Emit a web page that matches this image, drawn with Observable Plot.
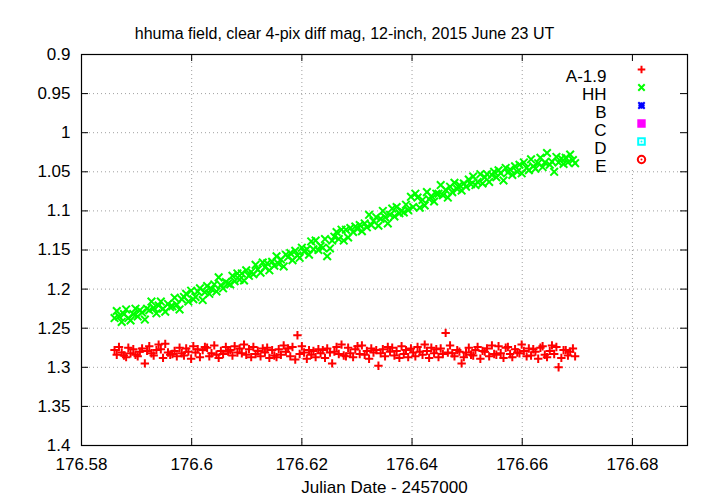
<!DOCTYPE html>
<html><head><meta charset="utf-8">
<script src="https://cdn.jsdelivr.net/npm/d3@7"></script>
<script src="https://cdn.jsdelivr.net/npm/@observablehq/plot@0.6"></script>
<style>
html,body{margin:0;padding:0;background:#fff}
#chart svg{display:block}
</style>
</head><body><div id="chart"></div>
<script>
const titleText = "hhuma field, clear 4-pix diff mag, 12-inch, 2015 June 23 UT";
const xLabelText = "Julian Date - 2457000";
const seriesNames = ["A-1.9", "HH", "B", "C", "D", "E"];
const seriesColors = ["#ff0000", "#00ff00", "#0000ff", "#ff00ff", "#00ffff", "#ff0000"];
const xTicks = [176.58, 176.60, 176.62, 176.64, 176.66, 176.68];
const yTicks = [0.90, 0.95, 1.00, 1.05, 1.10, 1.15, 1.20, 1.25, 1.30, 1.35, 1.40];

const jd = [
176.5860,176.5864,176.5868,176.5873,176.5877, 176.5881,176.5885,176.5889,176.5894,176.5898,
176.5902,176.5906,176.5910,176.5915,176.5919, 176.5923,176.5927,176.5931,176.5936,176.5940,
176.5944,176.5948,176.5952,176.5957,176.5961, 176.5965,176.5969,176.5973,176.5978,176.5982,
176.5986,176.5990,176.5994,176.5999,176.6003, 176.6007,176.6011,176.6015,176.6020,176.6024,
176.6028,176.6032,176.6036,176.6041,176.6045, 176.6049,176.6053,176.6057,176.6062,176.6066,
176.6070,176.6074,176.6078,176.6083,176.6087, 176.6091,176.6095,176.6099,176.6104,176.6108,
176.6112,176.6116,176.6120,176.6125,176.6129, 176.6133,176.6137,176.6141,176.6146,176.6150,
176.6154,176.6158,176.6162,176.6167,176.6171, 176.6175,176.6179,176.6183,176.6188,176.6192,
176.6196,176.6200,176.6204,176.6209,176.6213, 176.6217,176.6221,176.6225,176.6230,176.6234,
176.6238,176.6242,176.6246,176.6251,176.6255, 176.6259,176.6263,176.6267,176.6272,176.6276,
176.6280,176.6284,176.6288,176.6293,176.6297, 176.6301,176.6305,176.6309,176.6314,176.6318,
176.6322,176.6326,176.6330,176.6335,176.6339, 176.6343,176.6347,176.6351,176.6356,176.6360,
176.6364,176.6368,176.6372,176.6377,176.6381, 176.6385,176.6389,176.6393,176.6398,176.6402,
176.6406,176.6410,176.6414,176.6419,176.6423, 176.6427,176.6431,176.6435,176.6440,176.6444,
176.6448,176.6452,176.6456,176.6461,176.6465, 176.6469,176.6473,176.6477,176.6482,176.6486,
176.6490,176.6494,176.6498,176.6503,176.6507, 176.6511,176.6515,176.6519,176.6524,176.6528,
176.6532,176.6536,176.6540,176.6545,176.6549, 176.6553,176.6557,176.6561,176.6566,176.6570,
176.6574,176.6578,176.6582,176.6587,176.6591, 176.6595,176.6599,176.6603,176.6608,176.6612,
176.6616,176.6620,176.6624,176.6629,176.6633, 176.6637,176.6641,176.6645,176.6650,176.6654,
176.6658,176.6662,176.6666,176.6671,176.6675, 176.6679,176.6683,176.6687,176.6692,176.6696
];

const magA = [
1.278,1.284,1.274,1.281,1.285, 1.287,1.275,1.282,1.277,1.284,
1.286,1.280,1.276,1.295,1.279, 1.273,1.282,1.285,1.278,1.271,
1.277,1.288,1.270,1.281,1.284, 1.283,1.279,1.286,1.275,1.282,
1.285,1.276,1.280,1.289,1.273, 1.281,1.277,1.287,1.278,1.274,
1.275,1.286,1.282,1.272,1.284, 1.288,1.279,1.283,1.274,1.280,
1.278,1.285,1.273,1.281,1.276, 1.282,1.271,1.284,1.277,1.287,
1.274,1.283,1.279,1.286,1.276, 1.281,1.275,1.288,1.278,1.285,
1.287,1.277,1.284,1.272,1.280, 1.276,1.286,1.274,1.290,1.259,
1.283,1.273,1.281,1.289,1.278, 1.284,1.279,1.287,1.277,1.282,
1.278,1.288,1.276,1.281,1.295, 1.280,1.274,1.283,1.271,1.285,
1.286,1.275,1.282,1.287,1.277, 1.273,1.283,1.272,1.284,1.279,
1.289,1.276,1.281,1.278,1.298, 1.282,1.277,1.286,1.274,1.280,
1.275,1.285,1.279,1.288,1.273, 1.283,1.278,1.287,1.276,1.281,
1.286,1.274,1.280,1.284,1.271, 1.279,1.288,1.275,1.282,1.277,
1.287,1.276,1.283,1.256,1.281, 1.272,1.282,1.286,1.278,1.280,
1.295,1.287,1.281,1.275,1.284, 1.285,1.278,1.274,1.289,1.279,
1.280,1.276,1.286,1.272,1.283, 1.284,1.273,1.282,1.288,1.275,
1.274,1.283,1.287,1.277,1.281, 1.282,1.271,1.279,1.286,1.276,
1.285,1.277,1.280,1.289,1.275, 1.273,1.284,1.287,1.279,1.272,
1.283,1.274,1.300,1.288,1.278, 1.278,1.285,1.280,1.276,1.286
];

const magHH = [
1.237,1.228,1.235,1.242,1.232, 1.226,1.237,1.240,1.232,1.225,
1.235,1.227,1.230,1.239,1.225, 1.227,1.216,1.224,1.231,1.221,
1.216,1.225,1.229,1.219,1.223, 1.222,1.211,1.220,1.226,1.213,
1.210,1.206,1.216,1.202,1.213, 1.210,1.203,1.199,1.214,1.204,
1.196,1.206,1.200,1.194,1.203, 1.185,1.195,1.199,1.191,1.193,
1.194,1.183,1.190,1.180,1.188, 1.180,1.189,1.176,1.183,1.178,
1.181,1.169,1.175,1.179,1.166, 1.172,1.167,1.176,1.165,1.170,
1.158,1.168,1.162,1.171,1.156, 1.159,1.154,1.163,1.151,1.157,
1.160,1.147,1.152,1.149,1.156, 1.139,1.149,1.138,1.150,1.145,
1.147,1.136,1.158,1.148,1.138, 1.133,1.127,1.136,1.124,1.138,
1.124,1.134,1.122,1.127,1.120, 1.123,1.118,1.126,1.116,1.121,
1.105,1.118,1.113,1.108,1.119, 1.110,1.100,1.108,1.116,1.105,
1.097,1.107,1.095,1.103,1.100, 1.102,1.092,1.099,1.082,1.095,
1.078,1.083,1.096,1.086,1.093, 1.076,1.085,1.081,1.088,1.078,
1.078,1.067,1.080,1.073,1.083, 1.069,1.076,1.064,1.072,1.067,
1.074,1.065,1.069,1.060,1.066, 1.056,1.067,1.063,1.053,1.065,
1.057,1.053,1.063,1.054,1.050, 1.057,1.048,1.052,1.061,1.045,
1.051,1.047,1.054,1.043,1.050, 1.041,1.052,1.038,1.045,1.048,
1.034,1.043,1.046,1.039,1.032, 1.044,1.038,1.026,1.041,1.037,
1.050,1.031,1.038,1.033,1.040, 1.032,1.038,1.028,1.035,1.039
];

const rowsA = jd.map((t, i) => ({t, m: magA[i]}));
const rowsHH = jd.map((t, i) => ({t, m: magHH[i]}));

// custom point symbols (gnuplot style)
const symPlus = {draw(c, s) { const r = Math.sqrt(s / Math.PI); c.moveTo(-r, 0); c.lineTo(r, 0); c.moveTo(0, -r); c.lineTo(0, r); }};
const symTimes = {draw(c, s) { const r = Math.sqrt(s / Math.PI); c.moveTo(-r, -r); c.lineTo(r, r); c.moveTo(-r, r); c.lineTo(r, -r); }};
const symStar = {draw(c, s) { const r = Math.sqrt(s / Math.PI); c.moveTo(-r, 0); c.lineTo(r, 0); c.moveTo(0, -r); c.lineTo(0, r); c.moveTo(-r, -r); c.lineTo(r, r); c.moveTo(-r, r); c.lineTo(r, -r); }};
const symSquare = {draw(c, s) { const r = Math.sqrt(s / Math.PI); c.rect(-r, -r, 2 * r, 2 * r); }};
const symCircle = {draw(c, s) { const r = Math.sqrt(s / Math.PI); c.moveTo(r, 0); c.arc(0, 0, r, 0, 2 * Math.PI); }};

const fmt = d => String(+d.toFixed(2));
const W = 720, H = 504, mL = 81, mR = 33, mT = 54, mB = 59;
const fw = W - mL - mR, fh = H - mT - mB;
const FONT = 17;
const gridStyle = {stroke: "#a0a0a0", strokeWidth: 1, strokeDasharray: "1,3"};

const legendMarks = [];
const legendSyms = [
  {symbol: symPlus, r: 3.8, filled: false},
  {symbol: symTimes, r: 3.2, filled: false},
  {symbol: symStar, r: 3.2, filled: false},
  {symbol: symSquare, r: 3.2, filled: true},
  {symbol: symSquare, r: 3.3, filled: false},
  {symbol: symCircle, r: 3.7, filled: false}
];
seriesNames.forEach((name, i) => {
  const dy = 15 + 18 * i;
  legendMarks.push(Plot.text([name], {text: d => d, frameAnchor: "top-right", dx: -81, dy, textAnchor: "end", fontSize: FONT, fill: "black"}));
  const s = legendSyms[i];
  legendMarks.push(Plot.dot([name], {frameAnchor: "top-right", dx: -46, dy, symbol: s.symbol, r: s.r,
    stroke: seriesColors[i], fill: s.filled ? seriesColors[i] : "none", strokeWidth: 2}));
  if (i >= 4) legendMarks.push(Plot.dot([name], {frameAnchor: "top-right", dx: -46, dy, r: 1, fill: seriesColors[i], stroke: "none"}));
});

const chart = Plot.plot({
  width: W, height: H,
  marginLeft: mL, marginRight: mR, marginTop: mT, marginBottom: mB,
  style: {fontFamily: "'Liberation Sans', Arial, Helvetica, sans-serif", fontSize: FONT + "px", color: "black", background: "white"},
  x: {domain: [176.58, 176.69]},
  y: {domain: [0.9, 1.4], reverse: true},
  marks: [
    Plot.ruleX(xTicks.slice(1), {x: d => d, ...gridStyle}),
    Plot.ruleY(yTicks.slice(1, -1), {y: d => d, ...gridStyle}),
    // opaque key background
    Plot.frame({fill: "white", stroke: "none", insetLeft: 469, insetRight: 1, insetTop: 6, insetBottom: 277}),
    Plot.dot(rowsHH, {x: "t", y: "m", symbol: symTimes, r: 3.8, stroke: seriesColors[1], fill: "none", strokeWidth: 2}),
    Plot.dot(rowsA, {x: "t", y: "m", symbol: symPlus, r: 4.2, stroke: seriesColors[0], fill: "none", strokeWidth: 2}),
    // inward ticks on all four sides
    Plot.tickY(yTicks, {y: d => d, insetRight: fw - 7, stroke: "black"}),
    Plot.tickY(yTicks, {y: d => d, insetLeft: fw - 7, stroke: "black"}),
    Plot.tickX(xTicks, {x: d => d, insetTop: fh - 7, stroke: "black"}),
    Plot.tickX(xTicks, {x: d => d, insetBottom: fh - 7, stroke: "black"}),
    Plot.frame({stroke: "black", strokeWidth: 1.2}),
    Plot.axisX(xTicks, {tickSize: 0, tickPadding: 12, tickFormat: fmt, fontSize: FONT, label: null}),
    Plot.axisY(yTicks, {tickSize: 0, tickPadding: 11, tickFormat: fmt, fontSize: FONT, label: null}),
    Plot.text([xLabelText], {text: d => d, frameAnchor: "bottom", dy: 47, fontSize: FONT, fill: "black"}),
    Plot.text([titleText], {text: d => d, frameAnchor: "top-left", dx: 263, dy: -27, textAnchor: "middle", fontSize: 16, fill: "black"}),
    ...legendMarks
  ]
});
document.getElementById("chart").appendChild(chart);
</script>
</body></html>
